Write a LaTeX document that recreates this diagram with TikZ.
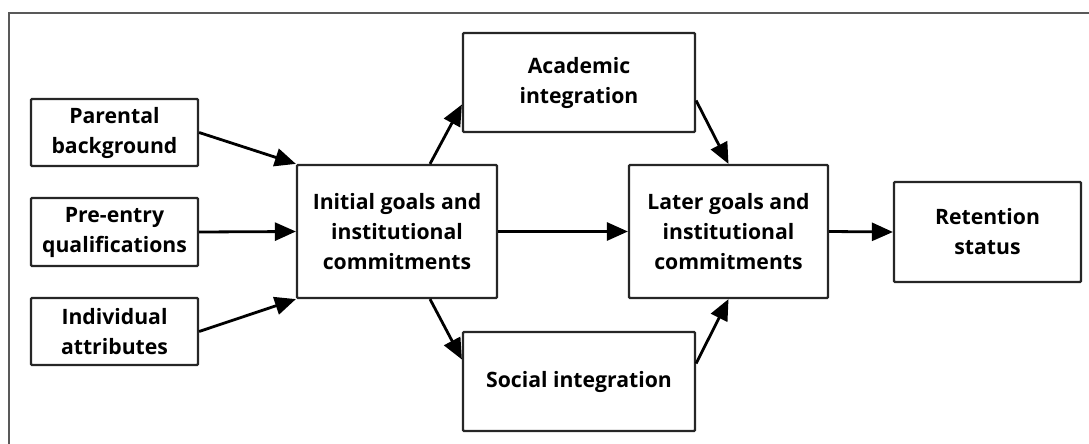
\documentclass[tikz,border=0pt]{standalone}
\usepackage{fontspec}
\setmainfont{Open Sans}
\usetikzlibrary{arrows.meta,calc}
\begin{document}
\begin{tikzpicture}[x=1pt,y=-1pt,
  box/.style={draw=black!85, line width=2.2pt, rounded corners=1pt, align=center, inner sep=0pt,
    font=\fontsize{21.2}{30}\selectfont\bfseries},
  arr/.style={line width=2.8pt, -{Triangle[length=21pt,width=18pt]}}]
\useasboundingbox (0,0) rectangle (1089,444);
\draw[black!65, line width=2pt] (9,470) -- (9,13) -- (1110,13);
\node[box, minimum width=167pt, minimum height=67pt] (pb) at (114.5,132.5) {Parental\\background};
\node[box, minimum width=167pt, minimum height=68pt] (pe) at (114.5,232) {Pre-entry\\qualifications};
\node[box, minimum width=167pt, minimum height=67pt] (ia) at (114.5,331.5) {Individual\\attributes};
\node[box, minimum width=200pt, minimum height=133pt] (ig) at (397,231.5) {Initial goals and\\institutional\\commitments};
\node[box, minimum width=232pt, minimum height=99pt] (ac) at (579,82.5) {Academic\\integration};
\node[box, minimum width=232pt, minimum height=99pt] (si) at (579,381.5) {Social integration};
\node[box, minimum width=199pt, minimum height=133pt] (lg) at (728.5,231.5) {Later goals and\\institutional\\commitments};
\node[box, minimum width=187pt, minimum height=100pt] (rs) at (987.5,232) {Retention\\status};
\draw[arr] (pb.east) -- (ig.north west);
\draw[arr] (pe.east) -- (ig.west);
\draw[arr] (ia.east) -- (ig.south west);
\draw[arr] ($(ig.north)+(33,0)$) -- ($(ac.west)+(0,22)$);
\draw[arr] ($(ig.south)+(33,0)$) -- ($(si.west)+(0,-22)$);
\draw[arr] ($(ac.east)+(0,18)$) -- (lg.north);
\draw[arr] ($(si.east)+(0,-18)$) -- (lg.south);
\draw[arr] (ig.east) -- (lg.west);
\draw[arr] (lg.east) -- (rs.west);
\end{tikzpicture}
\end{document}
